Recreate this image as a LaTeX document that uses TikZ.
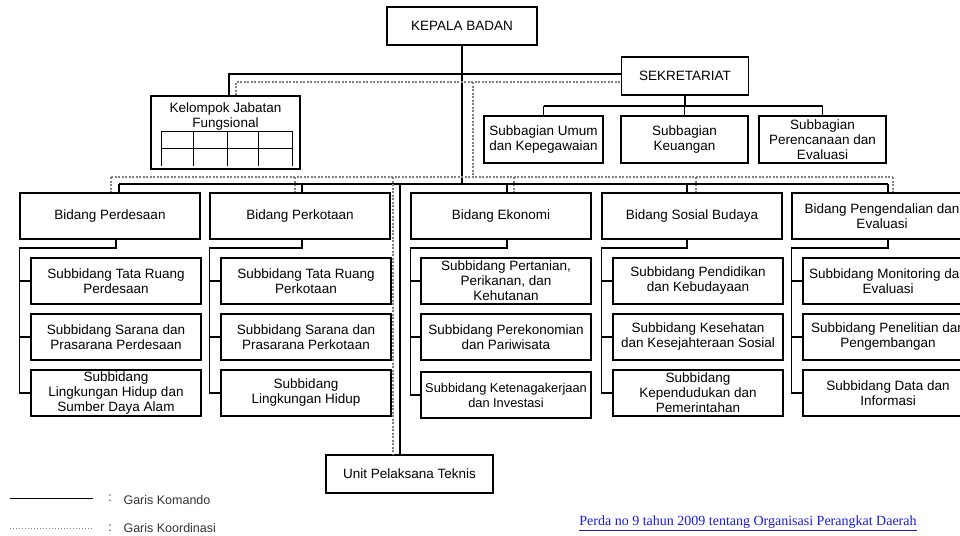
\documentclass[tikz,border=0pt]{standalone}
\usepackage{fontspec}
\setmainfont{Liberation Sans}
\newfontfamily\linkfont{Liberation Serif}
\definecolor{linkblue}{RGB}{25,25,225}

\begin{document}
\begin{tikzpicture}[x=1pt,y=-1pt,
	unit/.style={draw,line width=1.2pt,align=center,inner sep=1pt,font=\fontsize{13.5}{15}\selectfont},
	sub/.style={unit,minimum width=170,minimum height=46},
	bidang/.style={unit,minimum width=180,minimum height=46},
	komando/.style={line width=1.2pt},
	koord/.style={line width=1.2pt,gray,dash pattern=on 2pt off 1.5pt}]
	\useasboundingbox (0,0) rectangle (960,535);
	
	\node[unit,minimum width=150,minimum height=38] (kepala) at (462,26) {KEPALA BADAN};
	\node[unit,minimum width=127,minimum height=38] (sekre) at (685,76) {SEKRETARIAT};
	\node[unit,minimum width=119,minimum height=47] (sumum) at (543.5,139.5) {Subbagian Umum\\dan Kepegawaian};
	\node[unit,minimum width=127,minimum height=47] (skeu) at (684.5,139.5) {Subbagian\\Keuangan};
	\node[unit,minimum width=127,minimum height=47] (sren) at (822.5,139.5) {Subbagian\\Perencanaan dan\\Evaluasi};
	
	\node[unit,minimum width=149,minimum height=73] (kjf) at (225.5,132.5) {};
	\node[align=center,inner sep=1pt,font=\fontsize{13.5}{15}\selectfont,anchor=north] (kjftext) at (225.5,102) {Kelompok Jabatan\\Fungsional};
	\draw[line width=1pt] (161,131) -- (292,131);
	\draw[line width=1pt] (161,148) -- (292,148);
	\foreach \x in {161,193,227,258,292}
		\draw[line width=1pt] (\x,131) -- (\x,166);
	
	\node[bidang] (bdes) at (110,216) {Bidang Perdesaan};
	\node[bidang] (bkot) at (300,216) {Bidang Perkotaan};
	\node[bidang] (beko) at (501,216) {Bidang Ekonomi};
	\node[bidang] (bsos) at (692,216) {Bidang Sosial Budaya};
	\node[bidang] (bpen) at (882,216) {Bidang Pengendalian dan\\Evaluasi};
	
	\node[sub] (bdes1) at (116,281) {Subbidang Tata Ruang\\Perdesaan};
	\node[sub] (bdes2) at (116,337) {Subbidang Sarana dan\\Prasarana Perdesaan};
	\node[sub] (bdes3) at (116,393) {Subbidang\\Lingkungan Hidup dan\\Sumber Daya Alam};
	
	\node[sub] (bkot1) at (306,281) {Subbidang Tata Ruang\\Perkotaan};
	\node[sub] (bkot2) at (306,337) {Subbidang Sarana dan\\Prasarana Perkotaan};
	\node[sub] (bkot3) at (306,393) {Subbidang\\Lingkungan Hidup};
	
	\node[sub] (beko1) at (506,281) {Subbidang Pertanian,\\Perikanan, dan\\Kehutanan};
	\node[sub] (beko2) at (506,337) {Subbidang Perekonomian\\dan Pariwisata};
	\node[sub,font=\fontsize{12.8}{15}\selectfont] (beko3) at (506,395) {Subbidang Ketenagakerjaan\\dan Investasi};
	
	\node[sub] (bsos1) at (698,281) {Subbidang Pendidikan\\dan Kebudayaan};
	\node[sub] (bsos2) at (698,337) {Subbidang Kesehatan\\dan Kesejahteraan Sosial};
	\node[sub] (bsos3) at (698,393) {Subbidang\\Kependudukan dan\\Pemerintahan};
	
	\node[sub] (bpen1) at (888,281) {Subbidang Monitoring dan\\Evaluasi};
	\node[sub] (bpen2) at (888,337) {Subbidang Penelitian dan\\Pengembangan};
	\node[sub] (bpen3) at (888,393) {Subbidang Data dan\\Informasi};
	
	\node[unit,minimum width=167,minimum height=38] (upt) at (409.5,474) {Unit Pelaksana Teknis};
	
	\draw[komando] (kepala.south) -- (kepala.south |- 0,184);
	\draw[komando] (kjf.north -| 229,0) |- ([yshift=2]sekre.west);
	\draw[koord] (kjf.north -| 236,0) |- ([yshift=-6]sekre.west);
	\draw[koord] (473,82) -- (473,177);
	
	\draw[komando] (sekre.south) -- (sekre.south |- 0,106);
	\draw[komando] (sumum.north |- 0,106) -- (sren.north |- 0,106);
	\foreach \n in {sumum,skeu,sren}
		\draw[komando] (\n.north) -- (\n.north |- 0,106);
	
	\draw[koord] (111,177) -- (893,177);
	\foreach \n/\x in {bdes/111,bkot/295,beko/514,bsos/696,bpen/893}
		\draw[koord] (\x,177) -- (\x,177 |- \n.north);
	\draw[komando] (119,184) -- (888,184);
	\foreach \n/\x in {bdes/119,bkot/302,beko/507,bsos/687,bpen/888}
		\draw[komando] (\x,184) -- (\x,184 |- \n.north);
	
	\draw[komando] (400,184) -- (400,184 |- upt.north);
	\draw[koord] (393,177) -- (393,177 |- upt.north);
	
	\foreach \n/\x in {bdes/116,bkot/302,beko/507,bsos/687,bpen/888} {
		\draw[komando] (\x,0 |- \n.south) -- (\x,248) -- (\n.south west |- 0,248) |- (\n3.west);
		\draw[komando] (\n1.west -| \n.south west) -- (\n1.west);
		\draw[komando] (\n2.west -| \n.south west) -- (\n2.west);
	}
	
	\draw[line width=1pt] (10,498) -- (93,498);
	\draw[line width=0.8pt,gray,dash pattern=on 1pt off 2pt] (10,528) -- (93,528);
	\node[font=\fontsize{12.5}{14.5}\selectfont,text=black!80] (col1) at (110,498) {:};
	\node[font=\fontsize{12.5}{14.5}\selectfont,text=black!80] (col2) at (110,528) {:};
	\node[anchor=west,font=\fontsize{12.5}{14.5}\selectfont,text=black!80] (komtext) at (120,500) {Garis Komando};
	\node[anchor=west,font=\fontsize{12.5}{14.5}\selectfont,text=black!80] (kootext) at (120,528) {Garis Koordinasi};
	
	\node[font=\linkfont\fontsize{14}{16}\selectfont,text=linkblue] (perda) at (748,523) {\underline{Perda no 9 tahun 2009 tentang Organisasi Perangkat Daerah}};
\end{tikzpicture}
\end{document}
